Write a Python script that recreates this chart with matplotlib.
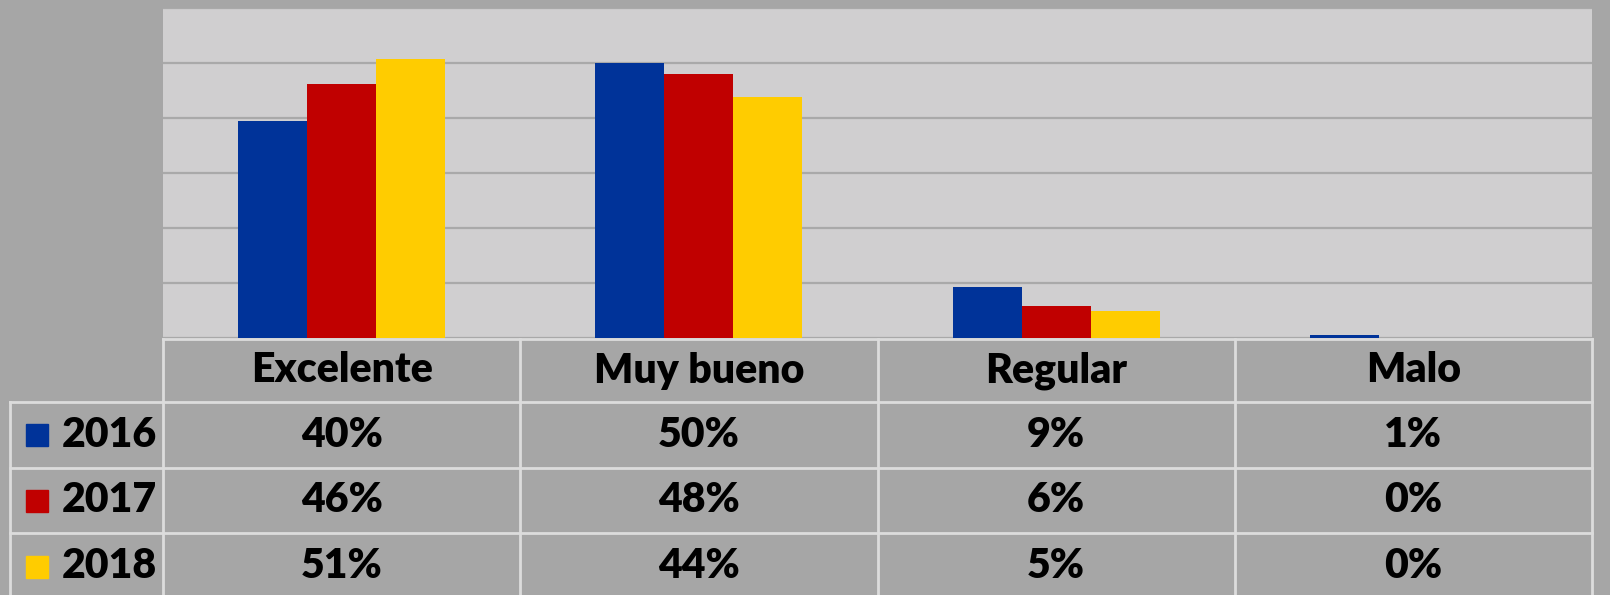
import numpy as np
import matplotlib.pyplot as plt

categories = ["Excelente", "Muy bueno", "Regular", "Malo"]
years = ["2016", "2017", "2018"]
v2016 = [39.5, 50.0, 9.3, 0.6]
v2017 = [46.2, 48.0, 5.8, 0.0]
v2018 = [50.7, 43.9, 4.9, 0.0]
colors = ["#003399", "#c00000", "#ffcc00"]

series = [v2016, v2017, v2018]
W, H = 1610, 595
bg = "#a6a6a6"
plot_bg = "#d0cfd0"
line_c = "#dcdcdc"
font = ["Lato", "DejaVu Sans"]

fig = plt.figure(figsize=(W / 100, H / 100), dpi=100, facecolor=bg)

# bar area
x0, x1, y0, y1 = 163, 1592, 8, 338
ax = fig.add_axes([x0 / W, 1 - y1 / H, (x1 - x0) / W, (y1 - y0) / H])
ax.set_facecolor(plot_bg)
ax.set_zorder(2)
x = np.arange(len(categories))
bw = 0.193
for i, vals in enumerate(series):
    ax.bar(x + (i - 1) * bw, vals, width=bw, color=colors[i], zorder=3)
ax.set_xlim(-0.5, len(categories) - 0.5)
ax.set_ylim(0, 60)
ax.set_yticks(np.arange(0, 61, 10))
ax.grid(axis="y", color="#a9a9a9", linewidth=1.6, zorder=0)
ax.tick_params(left=False, bottom=False, labelleft=False, labelbottom=False)
for s in ax.spines.values():
    s.set_visible(False)

# data table below, in pixel coordinates
tx = fig.add_axes([0, 0, 1, 1])
tx.set_xlim(0, W)
tx.set_ylim(H, 0)
tx.axis("off")
tx.patch.set_alpha(0)

col_w = (x1 - x0) / len(categories)
col_edges = [x0 + k * col_w for k in range(len(categories) + 1)]
row_edges = [339, 402, 468, 533, 600]
left = 10
lw = 2.0

tx.plot([x0, x1], [row_edges[0]] * 2, color=line_c, lw=lw)
for r in row_edges[1:4]:
    tx.plot([left, x1], [r, r], color=line_c, lw=lw)
for c in col_edges:
    tx.plot([c, c], [row_edges[0], H], color=line_c, lw=lw)
tx.plot([left, left], [row_edges[1], H], color=line_c, lw=lw)

fs = 29.5
for j, cat in enumerate(categories):
    cx = (col_edges[j] + col_edges[j + 1]) / 2
    tx.text(cx, (row_edges[0] + row_edges[1]) / 2, cat, ha="center", va="center",
            fontsize=fs, fontweight="heavy", family=font)
for i, (yr, vals) in enumerate(zip(years, series)):
    cy = (row_edges[i + 1] + row_edges[i + 2]) / 2
    tx.add_patch(plt.Rectangle((26, cy - 11), 22, 22, color=colors[i]))
    tx.text(62, cy, yr, ha="left", va="center", fontsize=fs, fontweight="heavy", family=font)
    for j, v in enumerate(vals):
        cx = (col_edges[j] + col_edges[j + 1]) / 2
        tx.text(cx, cy, f"{round(v)}%", ha="center", va="center",
                fontsize=fs, fontweight="heavy", family=font)

fig.savefig("out.png", dpi=100, facecolor=bg)
